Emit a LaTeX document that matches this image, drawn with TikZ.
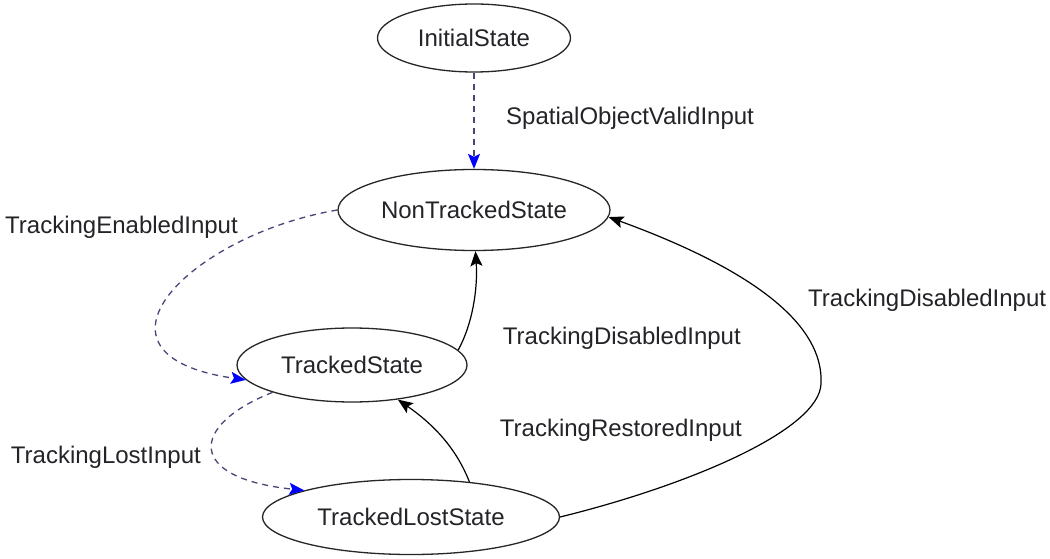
\documentclass[tikz,border=0pt]{standalone}
\usepackage{fontspec}
\setmainfont{Liberation Sans}
\usetikzlibrary{shapes.geometric,arrows.meta}
\definecolor{dashcol}{RGB}{70,70,120}
\definecolor{txtcol}{RGB}{35,35,40}
\begin{document}
\begin{tikzpicture}[x=1pt,y=-1pt,
  state/.style={ellipse,draw=black!85,line width=1.3pt,inner sep=0pt,
    font=\fontsize{24}{28}\selectfont,text=txtcol},
  lbl/.style={inner sep=0pt,font=\fontsize{24}{28}\selectfont,text=txtcol},
  solidedge/.style={draw=black,line width=1.2pt,
    -{Stealth[length=15pt,width=12pt,inset=3pt]}},
  dashedge/.style={draw=dashcol,line width=1.3pt,dash pattern=on 6pt off 5pt,
    -{Stealth[length=15pt,width=12pt,inset=3pt,blue]}}]
\path[use as bounding box,fill=white] (0,0) rectangle (1050,559);

\node[state,minimum width=193pt,minimum height=68pt] (is) at (474,38) {InitialState};
\node[state,minimum width=272pt,minimum height=81pt] (nt) at (474,210) {NonTrackedState};
\node[state,minimum width=230pt,minimum height=74pt] (ts) at (352,365) {TrackedState};
\node[state,minimum width=297pt,minimum height=75pt] (tls) at (411,517) {TrackedLostState};

\node[lbl,anchor=west] (l1) at (506,118) {SpatialObjectValidInput};
\node[lbl,anchor=west] (l2) at (5,227) {TrackingEnabledInput};
\node[lbl,anchor=east] (l3) at (741,338) {TrackingDisabledInput};
\node[lbl,anchor=east] (l4) at (742,430) {TrackingRestoredInput};
\node[lbl,anchor=west] (l5) at (808,300) {TrackingDisabledInput};
\node[lbl,anchor=east] (l6) at (201,457) {TrackingLostInput};

\coordinate (rt) at (821,384);
\draw[dashedge] (is.south) -- (nt.north);
\draw[dashedge] (nt.west) .. controls (190,235) and (70,355) .. (ts.188);
\draw[solidedge] (ts.8) .. controls (472,325) and (478,290) .. (nt.-88);
\draw[dashedge] (ts.199) .. controls (190,425) and (185,478) .. (tls.166);
\draw[solidedge] (tls.31) .. controls (455,445) and (430,422) .. (ts.-37);
\draw[solidedge] (tls.east) .. controls (690,485) and (819,430) .. (rt)
  .. controls (823,345) and (795,285) .. (nt.-3);
\end{tikzpicture}
\end{document}
